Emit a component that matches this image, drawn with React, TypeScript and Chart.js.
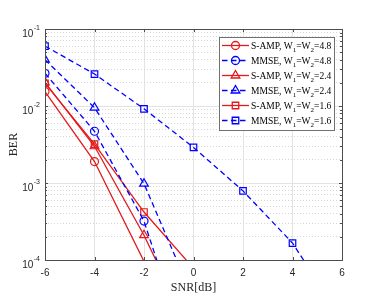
import React, { useEffect, useRef } from "react";
import { Chart, registerables } from "chart.js";

Chart.register(...registerables);

const snrValues = [-6, -4, -2, 0, 2, 4, 6];
const xTicks = [-6, -4, -2, 0, 2, 4, 6];
const yDecades = [1e-4, 1e-3, 1e-2, 1e-1];
const yExponents = ["-4", "-3", "-2", "-1"];

const sampW48 = [0.0154, 0.0019, 9.6e-5];
const mmseW48 = [0.0266, 0.0047, 0.00032, 3.5e-6];
const sampW24 = [0.0203, 0.003, 0.00021, 9.5e-6];
const mmseW24 = [0.04, 0.0095, 0.00098, 3.1e-5];
const sampW16 = [0.0197, 0.0032, 0.00042, 7.8e-5];
const mmseW16 = [0.06, 0.026, 0.0092, 0.0029, 0.00079, 0.000166, 1.7e-5];

const seriesNames = ["S-AMP", "MMSE", "S-AMP", "MMSE", "S-AMP", "MMSE"];
const seriesW = ["4.8", "4.8", "2.4", "2.4", "1.6", "1.6"];

const RED = "#e31a1c";
const BLUE = "#0000ff";
const DASH = [5.5, 3.5];

const toPts = (arr: number[]) => arr.map((v, i) => ({ x: snrValues[i], y: v }));

const isDecade = (v: number) => Math.abs(Math.log10(v) - Math.round(Math.log10(v))) < 1e-6;

const seriesDefs = [
  { data: sampW48, color: RED, dashed: false, shape: "circle", r: 4 },
  { data: mmseW48, color: BLUE, dashed: true, shape: "circle", r: 4 },
  { data: sampW24, color: RED, dashed: false, shape: "triangle", r: 5 },
  { data: mmseW24, color: BLUE, dashed: true, shape: "triangle", r: 5 },
  { data: sampW16, color: RED, dashed: false, shape: "rect", r: 4.6 },
  { data: mmseW16, color: BLUE, dashed: true, shape: "rect", r: 4.6 },
];

function drawMarker(ctx: CanvasRenderingContext2D, shape: string, x: number, y: number, r: number) {
  ctx.beginPath();
  if (shape === "circle") {
    ctx.arc(x, y, r, 0, Math.PI * 2);
  } else if (shape === "triangle") {
    const h = r;
    ctx.moveTo(x, y - h);
    ctx.lineTo(x + h * Math.sin((2 * Math.PI) / 3), y - h * Math.cos((2 * Math.PI) / 3));
    ctx.lineTo(x + h * Math.sin((4 * Math.PI) / 3), y - h * Math.cos((4 * Math.PI) / 3));
    ctx.closePath();
  } else {
    const s = r * Math.SQRT1_2;
    ctx.rect(x - s, y - s, 2 * s, 2 * s);
  }
  ctx.stroke();
}

const decorPlugin = {
  id: "decor",
  afterDraw(chart: any) {
    const ctx: CanvasRenderingContext2D = chart.ctx;
    const { left, right, top, bottom } = chart.chartArea;
    const xs = chart.scales.x;
    const ys = chart.scales.y;
    ctx.save();
    // axis box
    ctx.strokeStyle = "#4d4d4d";
    ctx.lineWidth = 1;
    ctx.setLineDash([]);
    ctx.strokeRect(Math.round(left) + 0.5, Math.round(top) + 0.5, Math.round(right - left), Math.round(bottom - top));
    // ticks inward
    ctx.beginPath();
    xTicks.forEach((t) => {
      const px = Math.round(xs.getPixelForValue(t)) + 0.5;
      ctx.moveTo(px, bottom);
      ctx.lineTo(px, bottom - 3);
      ctx.moveTo(px, top);
      ctx.lineTo(px, top + 3);
    });
    for (let e = -4; e <= -2; e++) {
      for (let m = 1; m <= 10; m++) {
        const v = m * Math.pow(10, e);
        const py = Math.round(ys.getPixelForValue(v)) + 0.5;
        const len = m === 1 || m === 10 ? 3 : 2;
        ctx.moveTo(left, py);
        ctx.lineTo(left + len, py);
        ctx.moveTo(right, py);
        ctx.lineTo(right - len, py);
      }
    }
    ctx.stroke();
    // x tick labels
    ctx.fillStyle = "#262626";
    ctx.font = "10px 'Liberation Sans', Arial, sans-serif";
    ctx.textAlign = "center";
    ctx.textBaseline = "middle";
    xTicks.forEach((t) => {
      ctx.fillText(String(t), xs.getPixelForValue(t), bottom + 13);
    });
    // y tick labels with superscripts
    yDecades.forEach((v, i) => {
      const py = ys.getPixelForValue(v);
      ctx.font = "7px 'Liberation Sans', Arial, sans-serif";
      ctx.textAlign = "right";
      ctx.textBaseline = "alphabetic";
      const expW = ctx.measureText(yExponents[i]).width;
      const expRight = left - 5;
      ctx.fillText(yExponents[i], expRight, py + 0.5);
      ctx.font = "10px 'Liberation Sans', Arial, sans-serif";
      ctx.fillText("10", expRight - expW - 0.5, py + 7.5);
    });
    // axis titles
    ctx.fillStyle = "#262626";
    ctx.font = "12px 'Liberation Serif', 'Times New Roman', serif";
    ctx.textAlign = "center";
    ctx.textBaseline = "middle";
    ctx.fillText("SNR[dB]", (left + right) / 2, bottom + 28);
    ctx.save();
    ctx.translate(14, (top + bottom) / 2);
    ctx.rotate(-Math.PI / 2);
    ctx.fillText("BER", 0, 0);
    ctx.restore();
    // legend
    const lx = 219.5, ly = 37.5, lw = 115, lh = 93;
    ctx.fillStyle = "#ffffff";
    ctx.fillRect(lx, ly, lw, lh);
    ctx.strokeStyle = "#707070";
    ctx.lineWidth = 1;
    ctx.strokeRect(lx, ly, lw, lh);
    seriesDefs.forEach((s, i) => {
      const ry = 45.5 + i * 15;
      ctx.strokeStyle = s.color;
      ctx.lineWidth = 1.3;
      ctx.setLineDash(s.dashed ? DASH : []);
      ctx.beginPath();
      ctx.moveTo(222, ry);
      ctx.lineTo(249, ry);
      ctx.stroke();
      ctx.setLineDash([]);
      drawMarker(ctx, s.shape, 235.5, ry, s.r);
      // text
      ctx.fillStyle = "#000000";
      ctx.textAlign = "left";
      ctx.textBaseline = "alphabetic";
      const big = "9.5px 'Liberation Serif', 'Times New Roman', serif";
      const small = "7px 'Liberation Serif', 'Times New Roman', serif";
      let cx = 251;
      const by = ry + 3.5;
      const parts: [string, boolean][] = [
        [seriesNames[i] + ", W", false],
        ["1", true],
        ["=W", false],
        ["2", true],
        ["=" + seriesW[i], false],
      ];
      parts.forEach(([txt, sub]) => {
        ctx.font = sub ? small : big;
        ctx.fillText(txt, cx, sub ? by + 2.5 : by);
        cx += ctx.measureText(txt).width;
      });
    });
    ctx.restore();
  },
};

export default function App() {
  const ref = useRef<HTMLCanvasElement | null>(null);
  useEffect(() => {
    if (!ref.current) return;
    const chart = new Chart(ref.current, {
      type: "line",
      data: {
        datasets: seriesDefs.map((s) => ({
          data: toPts(s.data),
          borderColor: s.color,
          borderWidth: 1.3,
          borderDash: s.dashed ? DASH : [],
          pointStyle: s.shape as any,
          pointRadius: (c: any) => (c.raw && c.raw.y < 1e-4 ? 0 : s.r),
          pointBorderColor: s.color,
          pointBackgroundColor: "rgba(0,0,0,0)",
          pointBorderWidth: 1.2,
          fill: false,
          tension: 0,
        })),
      },
      plugins: [decorPlugin],
      options: {
        responsive: false,
        animation: false,
        devicePixelRatio: 1,
        layout: { padding: { left: 45, top: 29, right: 32, bottom: 42 } },
        plugins: { legend: { display: false }, tooltip: { enabled: false } },
        scales: {
          x: {
            type: "linear",
            min: -6,
            max: 6,
            afterBuildTicks: (s: any) => {
              s.ticks = xTicks.map((v) => ({ value: v }));
            },
            afterFit: (s: any) => {
              s.height = 0;
            },
            ticks: { display: false },
            grid: { color: "#e3e3e3", lineWidth: 1, drawTicks: false },
            border: { display: false },
          },
          y: {
            type: "logarithmic",
            min: 1e-4,
            max: 1e-1,
            afterBuildTicks: (s: any) => {
              const t: any[] = [];
              for (let e = -4; e <= -2; e++) {
                for (let m = 1; m <= 9; m++) t.push({ value: m * Math.pow(10, e) });
              }
              t.push({ value: 1e-1 });
              s.ticks = t;
            },
            afterFit: (s: any) => {
              s.width = 0;
            },
            ticks: { display: false, autoSkip: false },
            grid: {
              drawTicks: false,
              lineWidth: 1,
              color: (c: any) => (c.tick && isDecade(c.tick.value) ? "#e3e3e3" : "#d6d6d6"),
            },
            border: {
              display: false,
              dash: (c: any) => (c.tick && isDecade(c.tick.value) ? [] : [1, 2]),
            },
          },
        },
      },
    });
    return () => chart.destroy();
  }, []);
  return (
    <div style={{ position: "fixed", left: 0, top: 0, width: 374, height: 302, background: "#fff" }}>
      <canvas ref={ref} width={374} height={302} />
    </div>
  );
}
